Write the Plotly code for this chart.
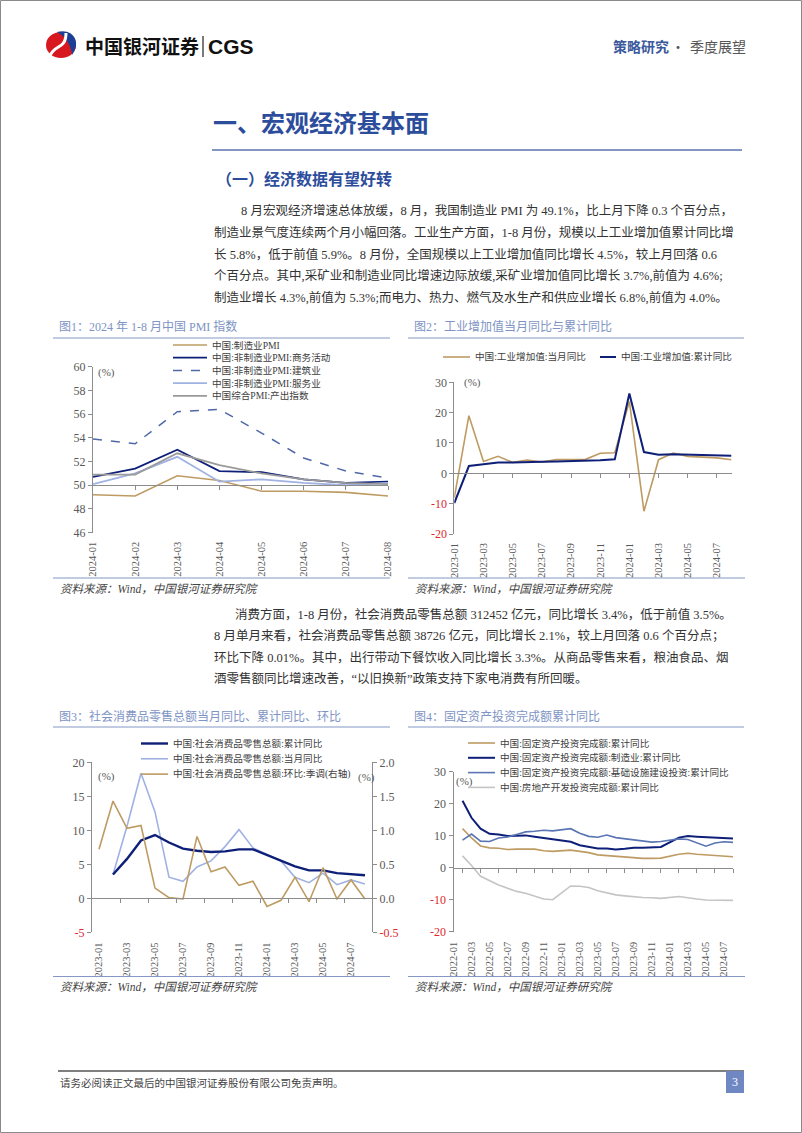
import plotly.graph_objects as go

W, H = 802, 1133
def px(x): return x / W
def py(y): return 1 - y / H

SERIF = "Liberation Serif, Noto Sans CJK SC, serif"
SANS = "Noto Sans CJK SC, sans-serif"
AXIS_GREY = "#8C8C8C"
TICK_GREY = "#595959"
RED = "#E0282E"
TITLE_BLUE = "#2C4D9C"
CAP_BLUE = "#7E94C4"
RULE_BLUE = "#8497C6"
TEXT = "#333333"

# ---------------- data ----------------
# Chart 1: PMI
pmi_months = ["2024-01", "2024-02", "2024-03", "2024-04", "2024-05", "2024-06", "2024-07", "2024-08"]
pmi_names = ["中国:制造业PMI", "中国:非制造业PMI:商务活动", "中国:非制造业PMI:建筑业",
             "中国:非制造业PMI:服务业", "中国综合PMI:产出指数"]
pmi_mfg = [49.2, 49.1, 50.8, 50.4, 49.5, 49.5, 49.4, 49.1]
pmi_nonmfg = [50.7, 51.4, 53.0, 51.2, 51.1, 50.5, 50.2, 50.3]
pmi_constr = [53.9, 53.5, 56.2, 56.4, 54.4, 52.3, 51.2, 50.6]
pmi_serv = [50.1, 51.0, 52.4, 50.3, 50.5, 50.2, 50.0, 50.2]
pmi_comp = [50.9, 50.9, 52.7, 51.7, 51.0, 50.5, 50.2, 50.1]

# Chart 2 / 3 months
m23 = ["2023-01", "2023-02", "2023-03", "2023-04", "2023-05", "2023-06", "2023-07", "2023-08",
       "2023-09", "2023-10", "2023-11", "2023-12", "2024-01", "2024-02", "2024-03", "2024-04",
       "2024-05", "2024-06", "2024-07", "2024-08"]
ind_names = ["中国:工业增加值:当月同比", "中国:工业增加值:累计同比"]
ind_monthly = [-8.0, 19.0, 3.9, 5.6, 3.6, 4.4, 3.7, 4.5, 4.5, 4.6, 6.6, 6.8, 23.7, -12.5, 4.5, 6.7, 5.6, 5.3, 5.1, 4.5]
ind_cum = [-9.8, 2.4, 3.0, 3.6, 3.6, 3.8, 3.8, 3.9, 4.0, 4.1, 4.3, 4.6, 26.3, 7.0, 6.1, 6.3, 6.2, 6.0, 5.9, 5.8]

retail_names = ["中国:社会消费品零售总额:累计同比", "中国:社会消费品零售总额:当月同比",
                "中国:社会消费品零售总额:环比:季调(右轴)"]
retail_cum = [None, 3.5, 5.8, 8.5, 9.3, 8.2, 7.3, 7.0, 6.8, 6.9, 7.2, 7.2, None, 5.5, 4.7, 4.1, 4.1, 3.7, 3.5, 3.4]
retail_yoy = [None, 3.5, 10.6, 18.4, 12.7, 3.1, 2.5, 4.6, 5.5, 7.6, 10.1, 7.4, None, 5.5, 3.1, 2.3, 3.7, 2.0, 2.7, 2.1]
retail_mom = [0.72, 1.43, 1.03, 1.07, 0.15, 0.01, -0.01, 0.91, 0.39, 0.46, 0.19, 0.25, -0.12, -0.03, 0.31, -0.05, 0.45, -0.01, 0.27, -0.01]

# Chart 4
m22 = [f"{y}-{m:02d}" for y in (2022, 2023, 2024) for m in range(1, 13)][:32]
fai_names = ["中国:固定资产投资完成额:累计同比", "中国:固定资产投资完成额:制造业:累计同比",
             "中国:固定资产投资完成额:基础设施建设投资:累计同比", "中国:房地产开发投资完成额:累计同比"]
fai_total = [None, 12.2, 9.3, 6.8, 6.2, 6.1, 5.7, 5.8, 5.9, 5.8, 5.3, 5.1,
             None, 5.5, 5.1, 4.7, 4.0, 3.8, 3.4, 3.2, 3.1, 2.9, 2.9, 3.0,
             None, 4.2, 4.5, 4.2, 4.0, 3.9, 3.6, 3.4]
fai_mfg = [None, 20.9, 15.6, 12.2, 10.6, 10.4, 9.9, 10.0, 10.1, 9.7, 9.3, 9.1,
           None, 8.1, 7.0, 6.4, 6.0, 6.0, 5.7, 5.9, 6.2, 6.2, 6.3, 6.5,
           None, 9.4, 9.9, 9.7, 9.6, 9.5, 9.3, 9.1]
fai_infra = [None, 8.6, 10.5, 8.3, 8.2, 9.3, 9.6, 10.4, 11.2, 11.4, 11.7, 11.5,
             None, 12.2, 10.8, 9.8, 9.5, 10.2, 9.4, 9.0, 8.6, 8.3, 8.0, 8.2,
             None, 9.0, 8.8, 7.8, 6.7, 7.7, 8.1, 7.9]
fai_re = [None, 3.7, 0.7, -2.7, -4.0, -5.4, -6.4, -7.4, -8.0, -8.8, -9.8, -10.0,
          None, -5.7, -5.8, -6.2, -7.2, -7.9, -8.5, -8.8, -9.1, -9.3, -9.4, -9.6,
          None, -9.0, -9.5, -9.8, -10.1, -10.1, -10.2, -10.2]

# ---------------- styles ----------------
C_TAN = "#BE9B62"
C_NAVY = "#0E1F78"
C_DASH = "#5068A8"
C_LBLUE = "#9FB2E2"
C_GREY = "#9A9A9A"
C_MBLUE = "#5A74B4"
C_LGREY = "#C4C4C4"

fig = go.Figure()

def add(x, y, xa, ya, color, width=1.6, dash="solid"):
    fig.add_trace(go.Scatter(x=x, y=y, xaxis=xa, yaxis=ya, mode="lines", connectgaps=True,
                             line=dict(color=color, width=width, dash=dash),
                             showlegend=False, hoverinfo="skip"))

i1 = list(range(len(pmi_months)))
i2 = list(range(len(m23)))
i4 = list(range(len(m22)))

pmi_series = [pmi_mfg, pmi_nonmfg, pmi_constr, pmi_serv, pmi_comp]
pmi_styles = [(C_TAN, 1.6, "solid"), (C_NAVY, 1.8, "solid"), (C_DASH, 1.5, "dash"),
              (C_LBLUE, 1.8, "solid"), (C_GREY, 1.8, "solid")]
for s, (c, w, d) in zip(pmi_series, pmi_styles):
    add(i1, s, "x", "y", c, w, d)

ind_styles = [(C_TAN, 1.6, "solid"), (C_NAVY, 2.0, "solid")]
for s, (c, w, d) in zip([ind_monthly, ind_cum], ind_styles):
    add(i2, s, "x2", "y2", c, w, d)

retail_styles = [(C_NAVY, 2.4, "solid"), (C_LBLUE, 1.6, "solid"), (C_TAN, 1.6, "solid")]
add(i2, retail_mom, "x3", "y4", C_TAN, 1.6)
add(i2, retail_yoy, "x3", "y3", C_LBLUE, 1.6)
add(i2, retail_cum, "x3", "y3", C_NAVY, 2.4)

fai_series = [fai_total, fai_mfg, fai_infra, fai_re]
fai_styles = [(C_TAN, 1.6, "solid"), (C_NAVY, 2.0, "solid"), (C_MBLUE, 1.6, "solid"), (C_LGREY, 1.6, "solid")]
for s, (c, w, d) in zip(fai_series, fai_styles):
    add(i4, s, "x4", "y5", c, w, d)

# dummy traces so that overlay tick axes are drawn
for xa, ya in [("x5", "y"), ("x6", "y2"), ("x7", "y3"), ("x8", "y5")]:
    fig.add_trace(go.Scatter(x=[None], y=[None], xaxis=xa, yaxis=ya, showlegend=False, hoverinfo="skip"))

# ---------------- axes ----------------
def ytext(vals, fmt="{:g}"):
    return [f'<span style="color:{RED}">{fmt.format(v)}</span>' if v < 0 else fmt.format(v) for v in vals]

def ydom(top, bot):
    return [py(bot), py(top)]

def yaxis(top, bot, rng, vals, fmt="{:g}", side="left", anchor="x", overlaying=None):
    d = dict(domain=ydom(top, bot), range=rng, tickvals=vals, ticktext=ytext(vals, fmt),
             showline=True, linecolor=AXIS_GREY, linewidth=1, ticks="outside", ticklen=4,
             tickcolor=AXIS_GREY, showgrid=False, zeroline=False, side=side, anchor=anchor,
             automargin=False,
             tickfont=dict(family=SERIF, size=12, color=TICK_GREY))
    if overlaying:
        d["overlaying"] = overlaying
    return d

def xaxis(left, right, rng, vals, labels, anchor, standoff=4):
    return dict(domain=[px(left), px(right)], range=rng, tickvals=vals, ticktext=labels,
                tickangle=-90, showline=False, ticks="", showgrid=False, zeroline=False,
                anchor=anchor, ticklabelstandoff=standoff, automargin=False,
                tickfont=dict(family=SERIF, size=10.5, color=TICK_GREY))

def tickaxis(left, right, rng, vals, over, ytop, ybot, yrng, yval):
    frac = (yval - yrng[0]) / (yrng[1] - yrng[0])
    pos = py(ybot) + frac * (py(ytop) - py(ybot))
    return dict(domain=[px(left), px(right)], range=rng, overlaying=over, anchor="free",
                position=pos, showline=True, linecolor=AXIS_GREY, linewidth=1,
                ticks="outside", ticklen=4, tickcolor=AXIS_GREY, tickvals=vals,
                showticklabels=False, showgrid=False, zeroline=False, automargin=False)

# chart geometry (page pixels)
C1 = dict(l=93, r=388, t=366.7, b=532.7)
C2 = dict(l=454.3, r=731.5, t=382.3, b=534)
C3 = dict(l=92, r=372, t=762.3, b=932.3)
C4 = dict(l=453.5, r=733, t=771.7, b=931.7)

y1r = [46, 60]; y2r = [-20, 30]; y3r = [-5, 20]; y4r = [-0.5, 2.0]; y5r = [-20, 30]
x1r = [0, 7]; x2r = [0, 19]; x3r = [-0.5, 19.5]; x4r = [0, 31]

lay = dict(
    xaxis=xaxis(C1["l"], C1["r"], x1r, i1, pmi_months, "y", 6),
    yaxis=yaxis(C1["t"], C1["b"], y1r, list(range(46, 61, 2)), anchor="x"),
    xaxis2=xaxis(C2["l"], C2["r"], x2r, i2[::2], m23[::2], "y2", 6),
    yaxis2=yaxis(C2["t"], C2["b"], y2r, list(range(-20, 31, 10)), anchor="x2"),
    xaxis3=xaxis(C3["l"], C3["r"], x3r, i2[::2], m23[::2], "y3", 7),
    yaxis3=yaxis(C3["t"], C3["b"], y3r, list(range(-5, 21, 5)), anchor="x3"),
    yaxis4=yaxis(C3["t"], C3["b"], y4r, [-0.5, 0.0, 0.5, 1.0, 1.5, 2.0], "{:.1f}", side="right",
                 anchor="x3", overlaying="y3"),
    xaxis4=xaxis(C4["l"], C4["r"], x4r, i4[::2], m22[::2], "y5", 7),
    yaxis5=yaxis(C4["t"], C4["b"], y5r, list(range(-20, 31, 10)), anchor="x4"),
    xaxis5=tickaxis(C1["l"], C1["r"], x1r, i1[1:], "x", C1["t"], C1["b"], y1r, 50),
    xaxis6=tickaxis(C2["l"], C2["r"], x2r, i2[2::2], "x2", C2["t"], C2["b"], y2r, 0),
    xaxis7=tickaxis(C3["l"], C3["r"], x3r, [k + 0.5 for k in range(1, 19, 2)], "x3", C3["t"], C3["b"], y3r, 0),
    xaxis8=tickaxis(C4["l"], C4["r"], x4r, list(range(1, 32, 2)), "x4", C4["t"], C4["b"], y5r, 0),
)
fig.update_layout(**lay)

# ---------------- text & decorations ----------------
ann = []
shapes = []

def T(text, x, y, size, color=TEXT, family=SERIF, xanchor="left", yanchor="middle"):
    ann.append(dict(text=text, x=px(x), y=py(y), xref="paper", yref="paper", showarrow=False,
                    xanchor=xanchor, yanchor=yanchor, font=dict(size=size, color=color, family=family)))

def L(x0, y0, x1, y1, color, width=1, dash="solid"):
    shapes.append(dict(type="line", xref="paper", yref="paper", x0=px(x0), y0=py(y0), x1=px(x1), y1=py(y1),
                       line=dict(color=color, width=width, dash=dash)))

def path(pts, close=True):
    s = ""
    for cmd, coords in pts:
        s += cmd + " " + " ".join(f"{px(a):.5f},{py(b):.5f}" for a, b in coords) + " "
    return s + ("Z" if close else "")

# page border
shapes.append(dict(type="rect", xref="paper", yref="paper", x0=px(0.5), y0=py(1132.5), x1=px(801.5), y1=py(0.5),
                   line=dict(color="#8A8A8A", width=1), fillcolor="rgba(0,0,0,0)"))

# logo
shapes.append(dict(type="circle", xref="paper", yref="paper", x0=px(46), x1=px(76), y0=py(58), y1=py(32),
                   fillcolor="#D7191F", line=dict(width=0)))
shapes.append(dict(type="path", xref="paper", yref="paper",
                   path=path([("M", [(57, 32)]), ("C", [(73, 28), (82, 42), (72, 55)]),
                              ("C", [(71, 45), (66, 37), (57, 32)])]),
                   fillcolor="#1B3F94", line=dict(width=0)))
shapes.append(dict(type="path", xref="paper", yref="paper",
                   path=path([("M", [(50, 56)]), ("C", [(54, 44), (66, 50), (66, 33)])], close=False),
                   fillcolor="rgba(0,0,0,0)", line=dict(color="white", width=3)))

T("<b>中国银河证券</b>", 83, 46, 19, "#111111", SANS)
L(203, 36, 203, 57, "#222222", 1.2)
T("<b>CGS</b>", 206, 46.5, 21, "#111111", "Liberation Sans, Arial, sans-serif")
T("<b>策略研究</b>", 611, 46, 14, "#3A5A9C", SANS)
T("·", 678, 46, 14, "#555555", SANS, xanchor="center")
T("季度展望", 688, 46, 14, "#555555", SANS)

# section title
T("<b>一、宏观经济基本面</b>", 211, 121.5, 24, TITLE_BLUE, SANS)
L(212, 150, 742, 150, "#5A74AE", 1.5)
T("<b>（一）经济数据有望好转</b>", 214, 178, 16, TITLE_BLUE, SANS)

BODY = 12.5
para1 = [
    (239, 210, "8 月宏观经济增速总体放缓，8 月，我国制造业 PMI 为 49.1%，比上月下降 0.3 个百分点，"),
    (212, 232.5, "制造业景气度连续两个月小幅回落。工业生产方面，1-8 月份，规模以上工业增加值累计同比增"),
    (212, 254, "长 5.8%，低于前值 5.9%。8 月份，全国规模以上工业增加值同比增长 4.5%，较上月回落 0.6"),
    (212, 275.5, "个百分点。其中,采矿业和制造业同比增速边际放缓,采矿业增加值同比增长 3.7%,前值为 4.6%;"),
    (212, 297, "制造业增长 4.3%,前值为 5.3%;而电力、热力、燃气及水生产和供应业增长 6.8%,前值为 4.0%。"),
]
for x, y, t in para1:
    T(t, x, y, BODY)

para2 = [
    (233, 614, "消费方面，1-8 月份，社会消费品零售总额 312452 亿元，同比增长 3.4%，低于前值 3.5%。"),
    (212, 635.5, "8 月单月来看，社会消费品零售总额 38726 亿元，同比增长 2.1%，较上月回落 0.6 个百分点；"),
    (212, 657, "环比下降 0.01%。其中，出行带动下餐饮收入同比增长 3.3%。从商品零售来看，粮油食品、烟"),
    (212, 678.5, "酒零售额同比增速改善，“以旧换新”政策支持下家电消费有所回暖。"),
]
for x, y, t in para2:
    T(t, x, y, BODY)

# figure captions
T("图1：2024 年 1-8 月中国 PMI 指数", 57, 326.5, 12, CAP_BLUE)
L(53, 338, 390, 338, RULE_BLUE, 1.2)
T("图2：工业增加值当月同比与累计同比", 412, 326.5, 12, CAP_BLUE)
L(408, 338, 744, 338, RULE_BLUE, 1.2)
T("图3：社会消费品零售总额当月同比、累计同比、环比", 57, 716, 12, CAP_BLUE)
L(53, 727, 390, 727, RULE_BLUE, 1.2)
T("图4：固定资产投资完成额累计同比", 412, 716, 12, CAP_BLUE)
L(408, 727, 744, 727, RULE_BLUE, 1.2)

# sources
for sx, sy, ly in [(58, 588.5, 578), (413, 588.5, 578), (58, 987, 976.5), (413, 987, 976.5)]:
    L(sx - 5, ly, sx + 332, ly, RULE_BLUE, 1.2)
    T("<i>资料来源：Wind，中国银河证券研究院</i>", sx, sy, 11.5, "#444444")

# unit labels
T("(%)", 96, 372, 11, TICK_GREY)
T("(%)", 462, 382.5, 11, TICK_GREY)
T("(%)", 96, 776, 11, TICK_GREY)
T("(%)", 356, 777, 11, TICK_GREY)
T("(%)", 454, 781, 11, TICK_GREY)

# custom legends
LEG = 9.6
def legend_row(x0, x1, y, color, width, dash, label):
    L(x0, y, x1, y, color, width, dash)
    T(label, x1 + 3, y, LEG, "#404040")

for k, (name, (c, w, d)) in enumerate(zip(pmi_names, pmi_styles)):
    legend_row(173, 207, 345 + 12.7 * k, c, w, d, name)

legend_row(443, 470, 357, ind_styles[0][0], ind_styles[0][1], "solid", ind_names[0])
legend_row(600, 616, 357, ind_styles[1][0], ind_styles[1][1], "solid", ind_names[1])

for k, (name, (c, w, d)) in enumerate(zip(retail_names, retail_styles)):
    legend_row(141, 168, 743.5 + 15.3 * k, c, w, d, name)

for k, (name, (c, w, d)) in enumerate(zip(fai_names, fai_styles)):
    legend_row(468, 495, 743 + 14.8 * k, c, w, d, name)

# footer
L(58, 1071, 744, 1071, "#555555", 1.5)
T("请务必阅读正文最后的中国银河证券股份有限公司免责声明。", 58, 1083, 10.5, "#444444")
shapes.append(dict(type="rect", xref="paper", yref="paper", x0=px(726), x1=px(744), y0=py(1093), y1=py(1071),
                   fillcolor="#6F88C4", line=dict(width=0)))
T("3", 735, 1082, 12, "white", SERIF, xanchor="center")

fig.update_layout(
    width=W, height=H, margin=dict(l=0, r=0, t=0, b=0, pad=0, autoexpand=False),
    paper_bgcolor="white", plot_bgcolor="rgba(0,0,0,0)",
    showlegend=False, hovermode=False,
    annotations=ann, shapes=shapes,
)

fig.write_html("out.html", config={"displayModeBar": False},
               post_script="document.body.style.margin='0px';document.body.style.overflow='hidden';")
